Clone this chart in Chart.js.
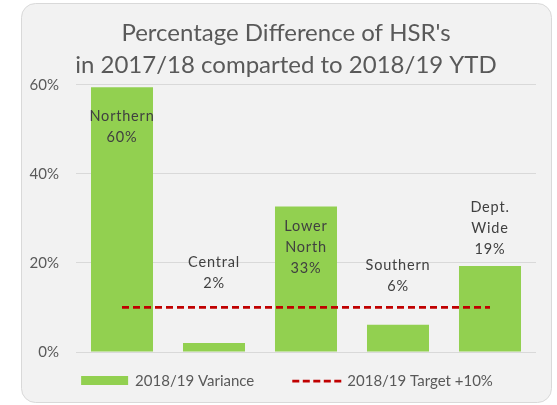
<!DOCTYPE html>
<html>
<head>
<meta charset="utf-8">
<script src="https://cdn.jsdelivr.net/npm/chart.js@4.4.1/dist/chart.umd.min.js"></script>
<style>
html, body { margin: 0; padding: 0; background: #fff; }
#wrap { width: 557px; height: 405px; }
</style>
</head>
<body>
<div id="wrap"><canvas id="hsr-chart" width="557" height="405"></canvas></div>
<script>
// values (percent)
const categories = ['Northern', 'Central', 'Lower North', 'Southern', 'Dept. Wide'];
const variance = [59.5, 2.0, 32.7, 6.1, 19.3];
const target = [10, 10, 10, 10, 10];
const yTicks = [0, 20, 40, 60];
const seriesNames = ['2018/19 Variance', '2018/19 Target +10%'];
const titleLines = ["Percentage Difference of HSR's", 'in 2017/18 comparted to 2018/19 YTD'];

const FONT = 'Lato, "Open Sans", sans-serif';
const GREEN = '#92d050';
const RED = '#c00000';
const GREY_TEXT = '#595959';

// rounded grey card behind everything
const cardPlugin = {
    id: 'card',
    beforeDraw(chart) {
        const ctx = chart.ctx;
        ctx.save();
        ctx.fillStyle = '#ffffff';
        ctx.fillRect(0, 0, chart.width, chart.height);
        ctx.beginPath();
        ctx.roundRect(21.5, 3.5, 530, 399, 14);
        ctx.fillStyle = '#f2f2f2';
        ctx.fill();
        ctx.strokeStyle = '#d9d9d9';
        ctx.lineWidth = 1;
        ctx.stroke();
        ctx.restore();
    }
};

// category name + value labels, placed by hand like in the original sheet
const barLabels = {
    id: 'barLabels',
    afterDatasetsDraw(chart, args, opts) {
        const ctx = chart.ctx;
        const meta = chart.getDatasetMeta(0);
        const y = chart.scales.y;
        ctx.save();
        ctx.font = '14.5px ' + FONT;
        ctx.letterSpacing = '0.8px';
        ctx.fillStyle = '#404040';
        ctx.textAlign = 'center';
        ctx.textBaseline = 'middle';
        meta.data.forEach((bar, i) => {
            const lines = categories[i].split(' ');
            lines.push(Math.round(variance[i]) + '%');
            const bottom = y.getPixelForValue(opts.anchors[i]);
            lines.forEach((txt, j) => {
                ctx.fillText(txt, bar.x, bottom - (lines.length - 1 - j) * 21);
            });
        });
        ctx.restore();
    }
};

// legend drawn by hand so the swatches keep the sheet's proportions
const sheetLegend = {
    id: 'sheetLegend',
    afterDraw(chart) {
        const ctx = chart.ctx;
        const ds = chart.data.datasets;
        const cy = 381;
        ctx.save();
        ctx.font = '15px ' + FONT;
        ctx.textBaseline = 'middle';
        const w0 = 47 + 7 + ctx.measureText(ds[0].label).width;
        const w1 = 49 + 6 + ctx.measureText(ds[1].label).width;
        let x = 287 - (w0 + 38 + w1) / 2;
        ctx.fillStyle = ds[0].backgroundColor;
        ctx.fillRect(x, cy - 5, 47, 9);
        ctx.fillStyle = GREY_TEXT;
        ctx.fillText(ds[0].label, x + 54, cy);
        x += w0 + 38;
        ctx.strokeStyle = ds[1].borderColor;
        ctx.lineWidth = ds[1].borderWidth;
        ctx.setLineDash([7, 3.5]);
        ctx.beginPath();
        ctx.moveTo(x, cy);
        ctx.lineTo(x + 49, cy);
        ctx.stroke();
        ctx.setLineDash([]);
        ctx.fillText(ds[1].label, x + 55, cy);
        ctx.restore();
    }
};

const ctx = document.getElementById('hsr-chart').getContext('2d');
const hsrChart = new Chart(ctx, {
    type: 'bar',
    data: {
        labels: categories,
        datasets: [{
            type: 'bar',
            label: seriesNames[0],
            data: variance,
            backgroundColor: GREEN,
            borderWidth: 0,
            categoryPercentage: 1,
            barPercentage: 0.674,
            order: 1
        }, {
            type: 'line',
            label: seriesNames[1],
            data: target,
            borderColor: RED,
            borderWidth: 2.75,
            borderDash: [7, 4],
            pointRadius: 0,
            fill: false,
            order: 0
        }]
    },
    options: {
        responsive: false,
        animation: false,
        devicePixelRatio: 1,
        layout: { padding: { top: 3, left: 20, right: 5, bottom: 53 } },
        scales: {
            x: { display: false },
            y: {
                min: 0,
                max: yTicks[yTicks.length - 1],
                afterBuildTicks: axis => { axis.ticks = yTicks.map(v => ({ value: v })); },
                afterFit: axis => { axis.width = 56; },
                border: { display: false },
                grid: { color: '#d9d9d9', lineWidth: 1, drawTicks: false },
                ticks: {
                    padding: 17,
                    color: GREY_TEXT,
                    font: { family: FONT, size: 15 },
                    callback: v => v + '%'
                }
            },
            // empty spacer on the right so title & plot sit like the original
            spacer: {
                position: 'right',
                display: true,
                afterFit: axis => { axis.width = 16; },
                border: { display: false },
                grid: { display: false },
                ticks: { display: false }
            }
        },
        plugins: {
            legend: { display: false },
            tooltip: { enabled: false },
            title: {
                display: true,
                text: titleLines,
                color: GREY_TEXT,
                font: { family: FONT, size: 24, weight: 'normal', lineHeight: 1.3333 },
                padding: { top: 14, bottom: 4 }
            },
            barLabels: { anchors: [48.3, 15.5, 18.9, 14.8, 23.1] }
        }
    },
    plugins: [cardPlugin, barLabels, sheetLegend]
});
</script>
</body>
</html>
